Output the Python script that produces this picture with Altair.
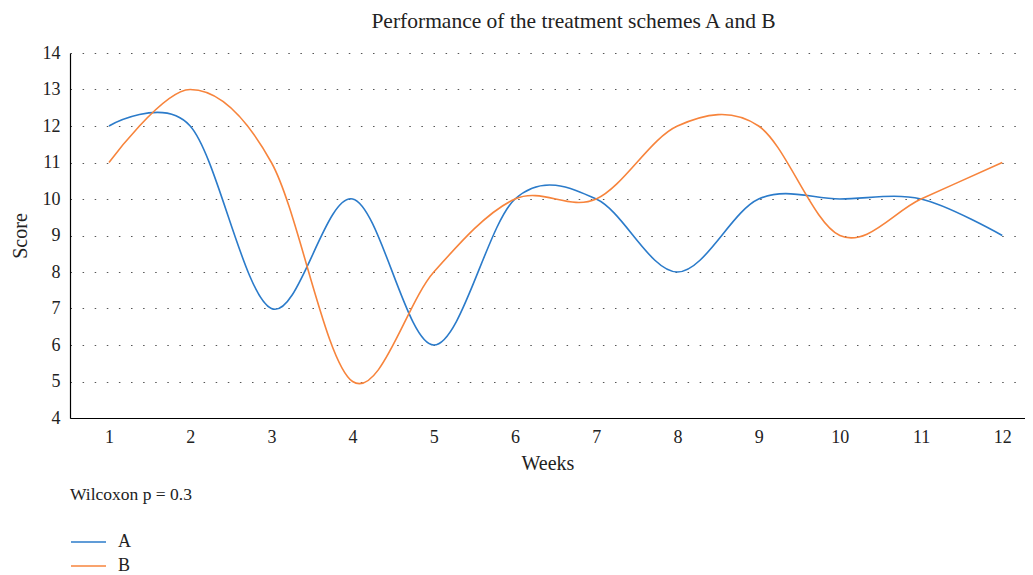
import altair as alt
import pandas as pd

weeks = list(range(1, 13))
score_a = [12, 12, 7, 10, 6, 10, 10, 8, 10, 10, 10, 9]
score_b = [11, 13, 11, 5, 8, 10, 10, 12, 12, 9, 10, 11]
series_names = ["A", "B"]
series_colors = ["#2b7bca", "#f7843c"]
y_ticks = list(range(4, 15))

rows = []
for w, a, b in zip(weeks, score_a, score_b):
    rows.append({"Weeks": w, "Score": a, "Scheme": "A"})
    rows.append({"Weeks": w, "Score": b, "Scheme": "B"})
df = pd.DataFrame(rows)

FONT = "Liberation Serif"

chart = alt.Chart(df).mark_line(interpolate="cardinal", tension=0, strokeWidth=1.6).encode(
    x=alt.X("Weeks:Q",
            scale=alt.Scale(domain=[0.52, 12.28], nice=False, zero=False),
            axis=alt.Axis(values=weeks, grid=False, ticks=False, labelPadding=10,
                          titlePadding=7, domainColor="#000", domainWidth=1.2,
                          labelFontSize=18, titleFontSize=20, labelColor="#222",
                          titleColor="#222", titleFontWeight="normal", labelFlush=False)),
    y=alt.Y("Score:Q",
            scale=alt.Scale(domain=[4, 14], nice=False, zero=False),
            axis=alt.Axis(values=y_ticks, grid=True, ticks=False, labelPadding=10,
                          titlePadding=12, domainColor="#000", domainWidth=1.2,
                          gridColor="#555", gridDash=[1.5, 10.6], gridWidth=1.2,
                          labelFontSize=18, titleFontSize=20, labelColor="#222",
                          titleColor="#222", titleFontWeight="normal")),
    color=alt.Color("Scheme:N",
                    scale=alt.Scale(domain=series_names, range=series_colors),
                    legend=alt.Legend(title="Wilcoxon p = 0.3", orient="none",
                                      legendX=0, legendY=433, padding=0,
                                      titleFontSize=17.5, titleFontWeight="normal",
                                      titleColor="#222", titlePadding=25,
                                      labelFontSize=18, labelColor="#222",
                                      symbolType="M-1,0H1.8", symbolSize=625,
                                      symbolStrokeWidth=1.5, labelOffset=21,
                                      rowPadding=1, direction="vertical")),
).properties(
    width=955, height=365,
    title=alt.TitleParams("Performance of the treatment schemes A and B",
                          fontSize=21.5, font=FONT, fontWeight="normal",
                          color="#222", offset=12, dx=26),
    autosize=alt.AutoSizeParams(type="none"),
    padding={"left": 62, "top": 45, "right": 0, "bottom": 157},
).configure(
    font=FONT,
).configure_view(stroke=None)

chart.save("out.html", embed_options={"renderer": "svg", "actions": False})
